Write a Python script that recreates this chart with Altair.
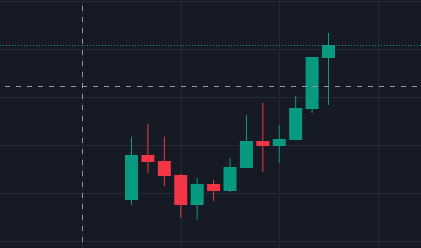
import altair as alt
import pandas as pd

# candle data (index, open, high, low, close)
idx = list(range(13))
opens = [108.54, 117.92, 116.67, 113.75, 107.50, 111.88, 110.42, 115.21, 120.83, 119.79, 121.04, 127.50, 138.13]
highs = [121.73, 124.38, 121.73, 113.96, 113.13, 112.71, 117.29, 126.25, 128.75, 124.17, 130.21, 138.33, 143.33]
lows = [107.50, 114.17, 111.46, 104.79, 104.38, 108.33, 110.21, 115.21, 114.38, 116.25, 121.04, 126.67, 128.33]
closes = [117.92, 116.46, 113.54, 107.50, 111.88, 110.42, 115.42, 120.83, 119.79, 121.25, 127.71, 138.33, 140.83]

grid_x = [-3, 3, 9, 15]
grid_y = [100, 110, 120, 130, 140, 150]
cross_x = [-3]
cross_y = [132.29]

BG = "#161a25"
GRID = "#242833"
UP = "#089981"
DOWN = "#f23645"
CROSS = "#9598a1"

df = pd.DataFrame({"i": idx, "open": opens, "high": highs, "low": lows, "close": closes})
df["dir"] = ["up" if c >= o else "down" for o, c in zip(opens, closes)]

xs = alt.Scale(domain=[-8.01, 17.634], nice=False, zero=False, padding=0)
ys = alt.Scale(domain=[98.54, 150.21], nice=False, zero=False, padding=0)
col = alt.Color("dir:N", scale=alt.Scale(domain=["up", "down"], range=[UP, DOWN]), legend=None)

xaxis = alt.Axis(values=grid_x, grid=True, gridColor=GRID, gridWidth=1, labels=False,
                 ticks=False, domain=False, title=None)
yaxis = alt.Axis(values=grid_y, grid=True, gridColor=GRID, gridWidth=1, labels=False,
                 ticks=False, domain=False, title=None)

base = alt.Chart(df)

wicks = base.mark_rule(strokeWidth=1).encode(
    x=alt.X("i:Q", scale=xs, axis=xaxis),
    y=alt.Y("low:Q", scale=ys, axis=yaxis),
    y2="high:Q",
    color=col,
)

bodies = base.mark_bar(size=13).encode(
    x=alt.X("i:Q", scale=xs),
    y=alt.Y("open:Q", scale=ys),
    y2="close:Q",
    color=col,
)

last = pd.DataFrame({"p": [closes[-1]]})
price_line = alt.Chart(last).mark_rule(color=UP, strokeWidth=1, strokeDash=[1, 2], yOffset=0.5).encode(
    y=alt.Y("p:Q", scale=ys),
    x=alt.value(0), x2=alt.value(421),
)

ch = alt.Chart(pd.DataFrame({"p": cross_y})).mark_rule(
    color=CROSS, strokeWidth=1, strokeDash=[5, 6], strokeDashOffset=6, yOffset=0.5
).encode(
    y=alt.Y("p:Q", scale=ys),
    x=alt.value(0), x2=alt.value(421),
)

cv = alt.Chart(pd.DataFrame({"q": cross_x})).mark_rule(
    color=CROSS, strokeWidth=1, strokeDash=[5, 6], strokeDashOffset=5, xOffset=0.25
).encode(
    x=alt.X("q:Q", scale=xs),
    y=alt.value(0), y2=alt.value(242),
)

chart = alt.layer(wicks, bodies, price_line, ch, cv).properties(
    width=421, height=248, padding=0, autosize="none", background=BG
).configure_view(stroke=None, fill=BG)

chart.save("out.html", embed_options={"renderer": "svg", "actions": False})
